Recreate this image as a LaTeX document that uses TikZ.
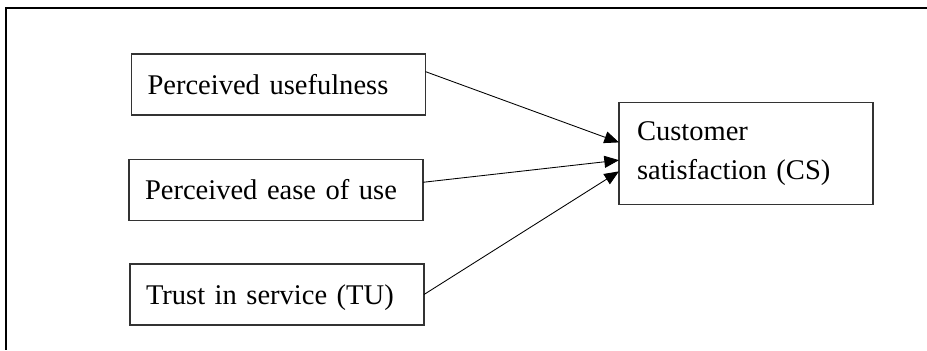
\documentclass[tikz,border=0pt]{standalone}
\usepackage{fontspec}
\setmainfont{Liberation Serif}
\usetikzlibrary{arrows.meta}

\begin{document}
\begin{tikzpicture}[x=0.75pt, y=-0.75pt, node distance=0cm]

\useasboundingbox (0,0) rectangle (927,350);

%% styles for the model drawing
\tikzstyle{every node}=[font=\fontsize{21.4pt}{29.25pt}\selectfont]
\tikzstyle{factor}=[rectangle, draw=black!80, line width=0.9pt, inner xsep=12pt, inner ysep=0pt, outer sep=0pt, text width=196.5pt, minimum height=45.75pt, align=left, text height=14.5pt, text depth=0pt]
\tikzstyle{outcome}=[factor, inner xsep=13.5pt, text width=163.5pt, minimum height=76.5pt, text height=, text depth=]
\tikzstyle{link}=[line width=0.65pt, black, -{Triangle[length=11pt,width=9pt]}]

% outer frame
\draw[line width=1.5pt] (927,8) -- (6,8) -- (6,350);

% Draw the factor boxes
\foreach \name/\x/\y/\txt in {1/278.5/84.5/Perceived usefulness,
2/276/190/Perceived ease of use,
3/277/294.5/Trust in service (TU)}{
\node[factor] (F-\name) at (\x,\y) {\txt};}

% Draw the outcome box
\node[outcome] (CS) at (746,153.5) {Customer\\satisfaction (CS)};

%% connections
\foreach \source/\from/\to in {1/5/175, 2/3/183, 3/0/188}{
\draw[link] (F-\source.\from) -- (CS.\to);}

\end{tikzpicture}
\end{document}
